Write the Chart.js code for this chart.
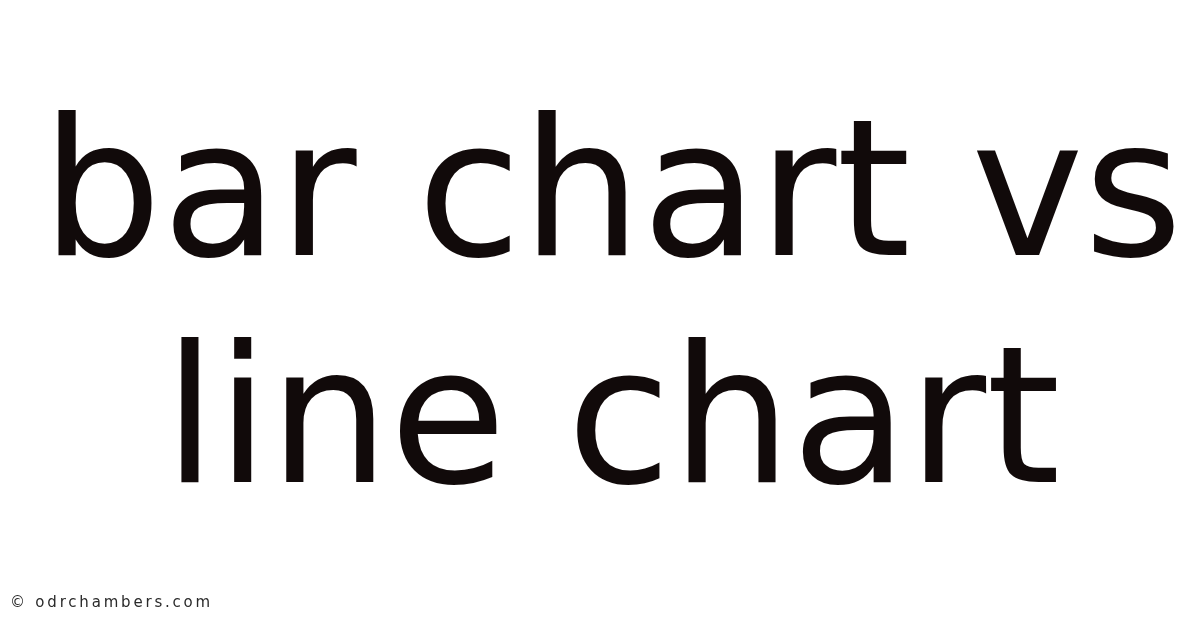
<!DOCTYPE html>
<html>
<head>
<meta charset="utf-8">
<script src="https://cdn.jsdelivr.net/npm/chart.js@4"></script>
<style>
  html, body { margin: 0; padding: 0; background: #ffffff; }
  #wrap { position: relative; width: 1200px; height: 628px; overflow: hidden; }
  #c { position: absolute; left: 0; top: 0; }
  #footer {
    position: absolute; left: 10px; top: 593px;
    font-family: "DejaVu Sans", sans-serif; font-size: 15px; letter-spacing: 2.8px;
    color: #2a2a2a; white-space: nowrap; line-height: 19px;
  }
</style>
</head>
<body>
<div id="wrap">
  <canvas id="c" width="1200" height="628"></canvas>
  <div id="footer"></div>
</div>
<script>
const titleLines = ["bar chart vs", "line chart"];
const footerText = "\u00a9 odrchambers.com";
const categories = [];
const seriesValues = [];

document.getElementById('footer').textContent = footerText;

new Chart(document.getElementById('c'), {
  type: 'bar',
  data: {
    labels: categories,
    datasets: [{ data: seriesValues, backgroundColor: '#110a0a' }]
  },
  options: {
    responsive: false,
    animation: false,
    devicePixelRatio: 1,
    layout: { padding: { left: 24, right: 0, top: 0, bottom: 0 } },
    plugins: {
      legend: { display: false },
      tooltip: { enabled: false },
      title: {
        display: true,
        text: titleLines,
        color: '#110a0a',
        align: 'center',
        font: { family: '"DejaVu Sans"', size: 190, weight: 'normal', lineHeight: 1.19 },
        padding: { top: 93, bottom: 0 }
      }
    },
    scales: {
      x: { display: false },
      y: { display: false }
    }
  }
});
</script>
</body>
</html>
